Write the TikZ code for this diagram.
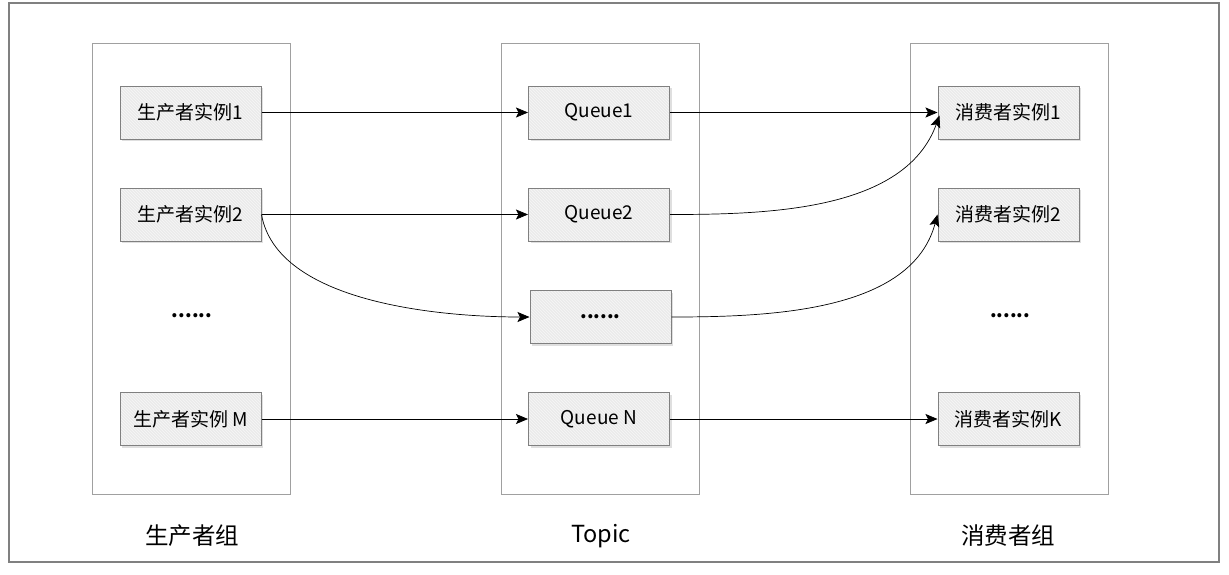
\documentclass[tikz,border=0pt]{standalone}
\usepackage{fontspec}
\setmainfont{Noto Sans CJK SC}
\usetikzlibrary{shadows,patterns,arrows.meta}
\definecolor{boxfill}{RGB}{235,235,235}
\definecolor{boxline}{RGB}{128,128,128}
\definecolor{grpline}{RGB}{160,160,160}
\tikzset{
  inst/.style={minimum width=141pt, minimum height=53pt,
    inner sep=0pt, font=\fontsize{19}{22}\selectfont,
    drop shadow={shadow xshift=2pt, shadow yshift=-2pt, opacity=0.25},
    preaction={fill=boxfill},
    preaction={pattern=north west lines, pattern color=white!55!boxfill},
    draw=boxline, line width=1pt},
  grp/.style={draw=grpline, line width=0.8pt},
  lab/.style={font=\fontsize{23.5}{28}\selectfont},
  dots/.style={font=\fontsize{19}{22}\selectfont\bfseries},
  conn/.style={-{Stealth[length=12pt,width=10pt,inset=2.5pt]}, line width=0.7pt, black}
}
\begin{document}
\begin{tikzpicture}[x=1pt,y=-1pt]
\useasboundingbox (0,0) rectangle (1229,574);
\fill[white] (0,0) rectangle (1229,574);
% outer frame
\draw[draw=boxline, line width=1.3pt] (9,3) rectangle (1219,562);
% groups
\draw[grp] (92,43) rectangle (290,494);
\draw[grp] (501,43) rectangle (699,494);
\draw[grp] (910,43) rectangle (1108,494);
% producers
\node[inst] (p1) at (190.5,112.5) {生产者实例1};
\node[inst] (p2) at (190.5,214.5) {生产者实例2};
\node[dots] (pd) at (192,316) {......};
\node[inst] (pm) at (190.5,419) {生产者实例 M};
% queues
\node[inst] (q1) at (599,112.5) {Queue1};
\node[inst] (q2) at (599,214.5) {Queue2};
\node[inst] (qd) at (600.5,317) {\bfseries ......};
\node[inst] (qn) at (599,419) {Queue N};
% consumers
\node[inst] (c1) at (1008.5,112.5) {消费者实例1};
\node[inst] (c2) at (1008.5,214.5) {消费者实例2};
\node[dots] (cd) at (1010,316) {......};
\node[inst] (ck) at (1008.5,419) {消费者实例K};
% group labels
\node[lab] (lp) at (192,536) {生产者组};
\node[lab] (lt) at (601,536) {Topic};
\node[lab] (lc) at (1008,536) {消费者组};
% connectors
\draw[conn] (p1.east) -- (q1.west);
\draw[conn] (q1.east) -- (c1.west);
\draw[conn] (p2.east) -- (q2.west);
\draw[conn] (q2.east) to[out=0,in=-110,looseness=0.9] ([xshift=2pt,yshift=-3pt]c1.west);
\draw[conn] (p2.east) to[out=-80,in=180,looseness=0.8] (qd.west);
\draw[conn] (qd.east) to[out=0,in=-105,looseness=0.9] (c2.west);
\draw[conn] (pm.east) -- (qn.west);
\draw[conn] (qn.east) -- (ck.west);
\end{tikzpicture}
\end{document}
